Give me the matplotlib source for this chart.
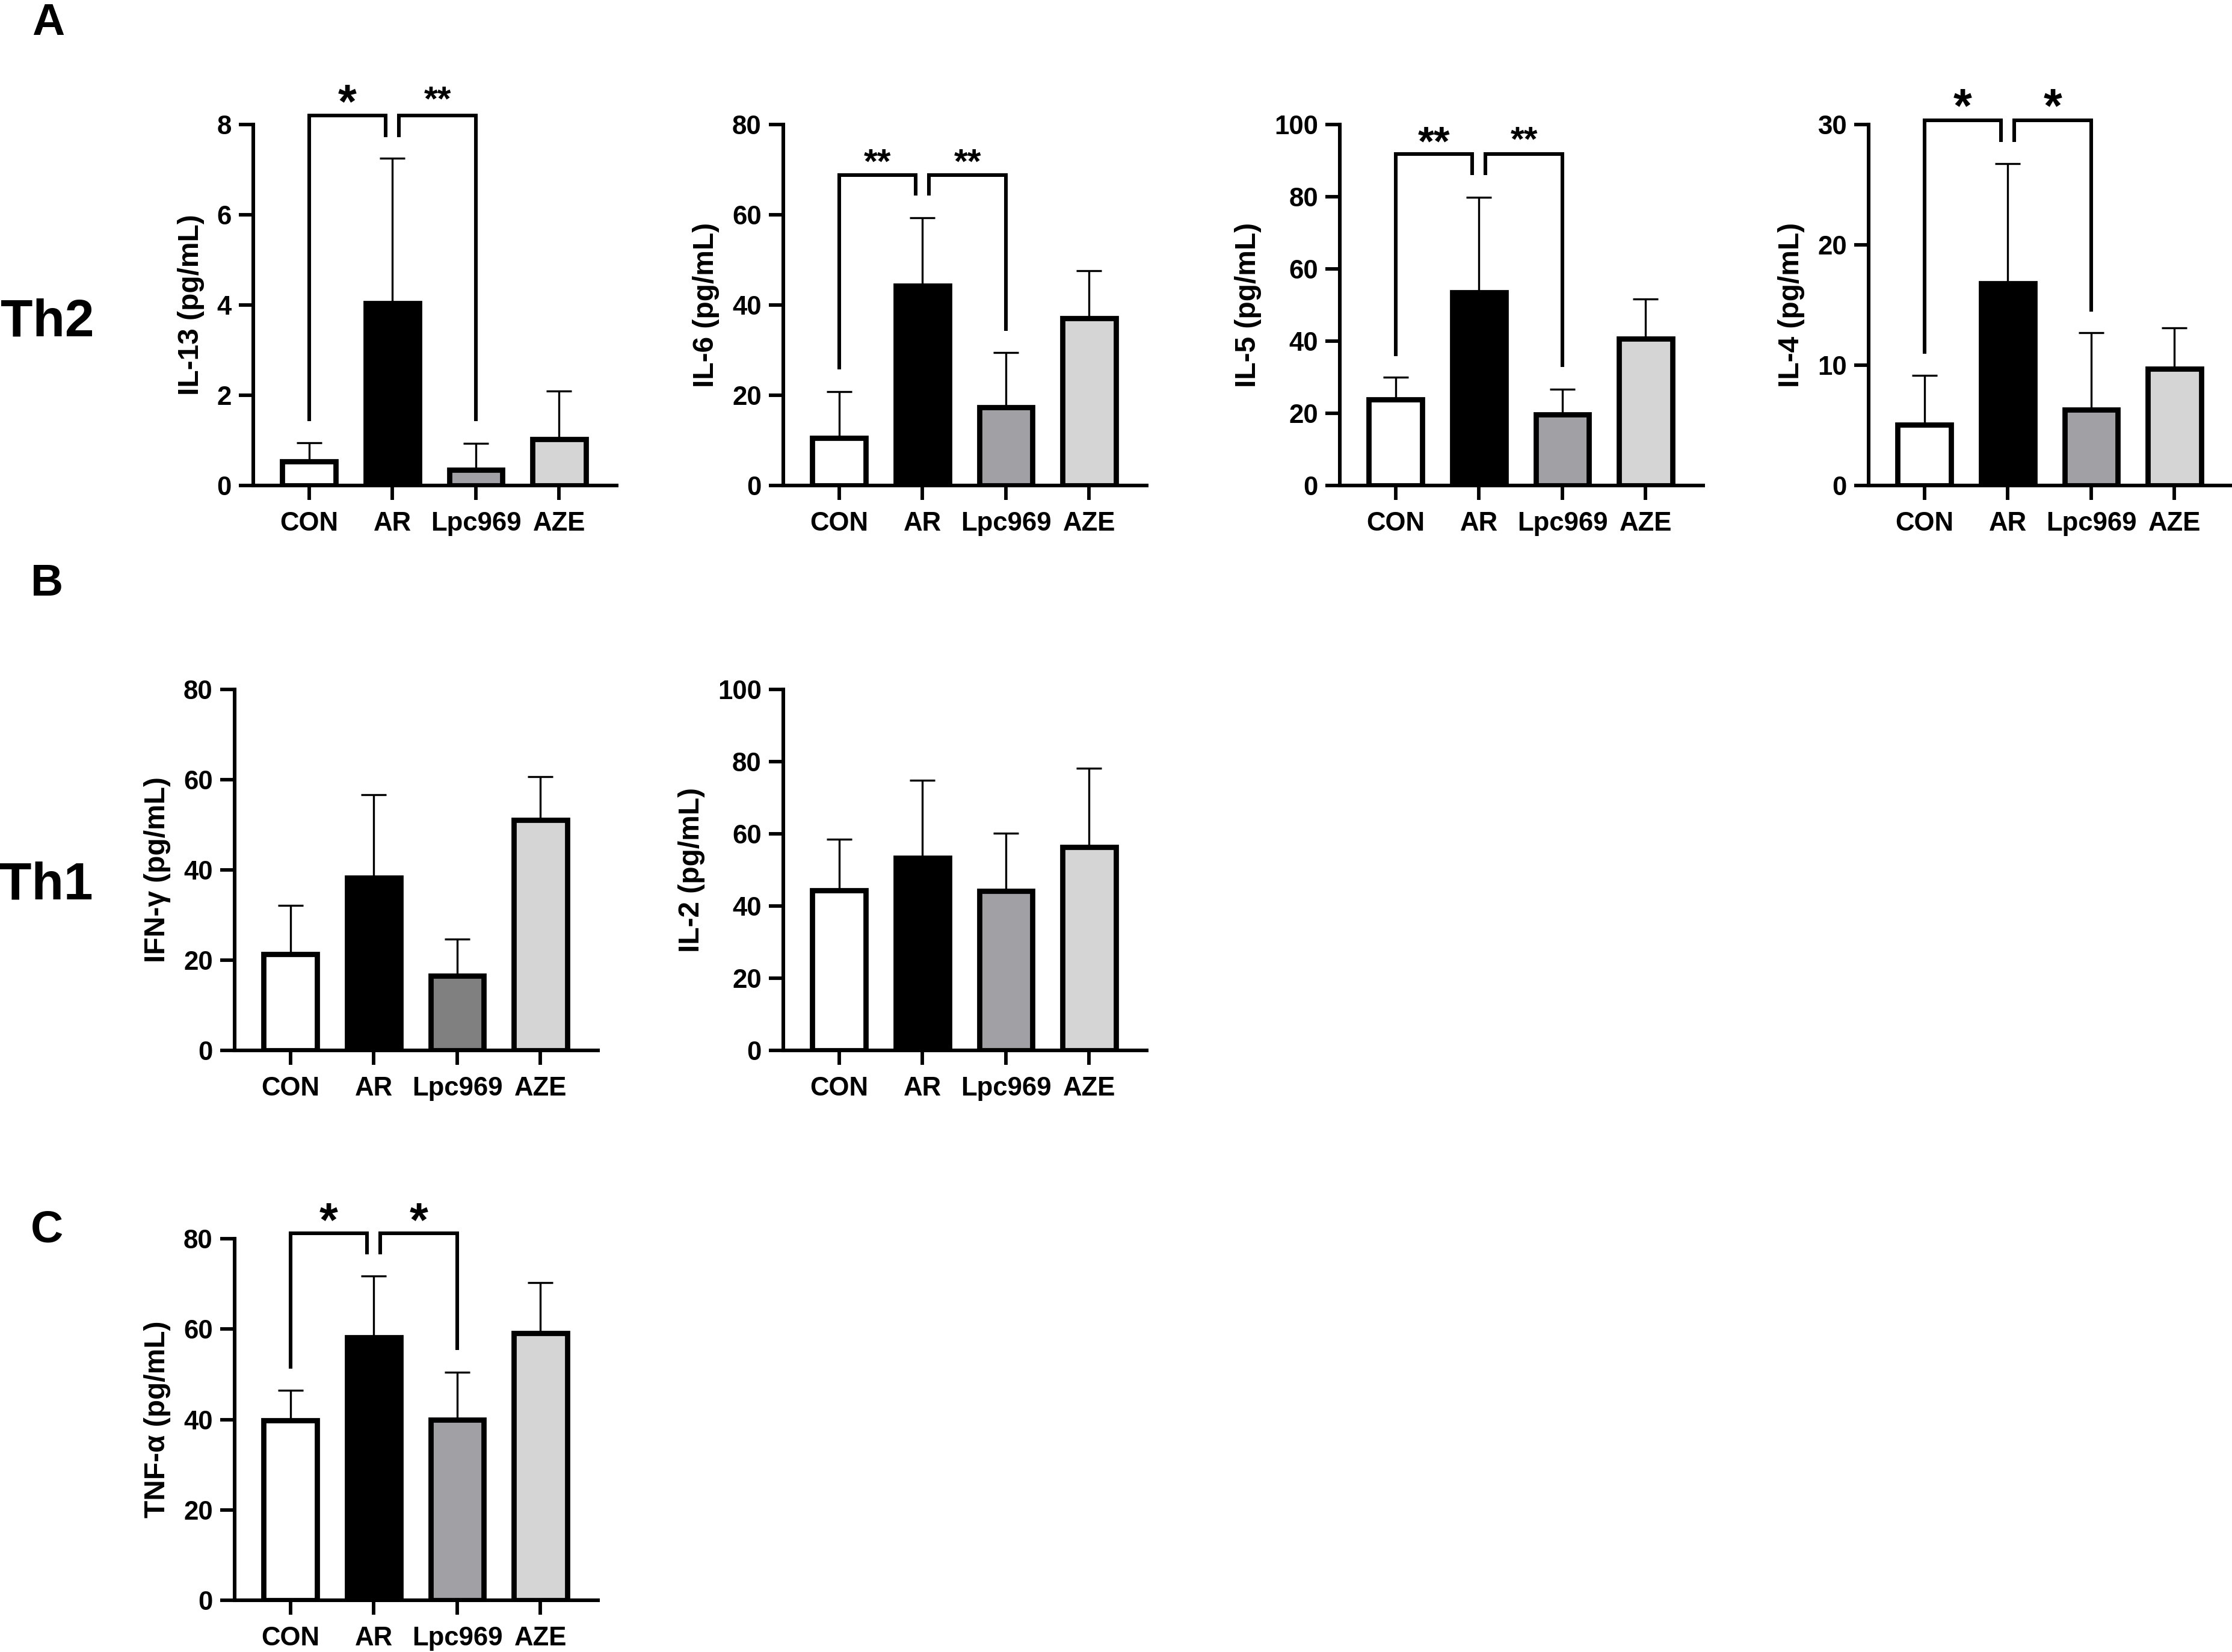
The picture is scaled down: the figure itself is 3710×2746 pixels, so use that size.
import matplotlib
matplotlib.use("Agg")
import matplotlib.pyplot as plt
import numpy as np

plt.rcParams['font.family'] = ['Liberation Sans', 'DejaVu Sans']
plt.rcParams['font.weight'] = 'bold'
plt.rcParams['axes.labelweight'] = 'bold'

groups = ["CON", "AR", "Lpc969", "AZE"]

# mean and upper SD
il13_mean = [0.53, 4.04, 0.35, 1.02]
il13_sd = [0.42, 3.21, 0.58, 1.07]
il6_mean = [10.5, 44.3, 17.3, 37.0]
il6_sd = [10.3, 15.0, 12.2, 10.6]
il5_mean = [23.8, 53.5, 19.6, 40.6]
il5_sd = [6.2, 26.4, 7.0, 11.1]
il4_mean = [5.06, 16.8, 6.28, 9.72]
il4_sd = [4.1, 9.95, 6.4, 3.4]
ifng_mean = [21.3, 38.3, 16.5, 51.1]
ifng_sd = [10.9, 18.4, 8.2, 9.6]
il2_mean = [44.4, 53.3, 44.1, 56.3]
il2_sd = [14.1, 21.5, 16.1, 21.8]
tnfa_mean = [39.8, 58.2, 40.0, 59.1]
tnfa_sd = [6.6, 13.5, 10.5, 11.2]

# significance marks (CON vs AR, AR vs Lpc969)
il13_stars = ["*", "**"]
il6_stars = ["**", "**"]
il5_stars = ["**", "**"]
il4_stars = ["*", "*"]
tnfa_stars = ["*", "*"]

W, H = 3710, 2746
DPI = 300
colors = ["white", "black", "#a1a1a5", "#d5d5d5"]
colors_ifn = ["white", "black", "#808080", "#d5d5d5"]


def make_axes(fig, left, zero, top, width=604):
    """axes from pixel positions (origin top-left)"""
    return fig.add_axes([left / W, 1 - zero / H, width / W, (zero - top) / H])


def draw_panel(ax, means, sds, ylabel, ymax, step, cols):
    x = np.arange(len(groups))
    ax.errorbar(x, means, yerr=[np.zeros(len(sds)), sds], fmt='none',
                ecolor='black', elinewidth=0.8, capsize=5, capthick=0.8, zorder=1)
    ax.bar(x, means, width=0.64, color=cols, edgecolor='black', linewidth=2.1, zorder=2)
    ax.set_xlim(-0.67, 3.69)
    ax.set_ylim(0, ymax)
    ax.set_yticks(np.arange(0, ymax + step / 2, step))
    ax.set_xticks(x)
    ax.set_xticklabels(groups)
    ax.set_ylabel(ylabel, fontsize=11.5, labelpad=5)
    for s in ['top', 'right']:
        ax.spines[s].set_visible(False)
    for s in ['left', 'bottom']:
        ax.spines[s].set_linewidth(1.45)
        ax.spines[s].set_zorder(3)
    ax.tick_params(axis='both', length=5.7, width=1.4, labelsize=10.5)
    ax.tick_params(axis='x', pad=4.5)
    ax.tick_params(axis='y', pad=3)


def add_sig(ax, stars, top, inner, left_bot, right_bot, star_y, sizes, gap=0.08):
    kw = dict(color='black', lw=1.45, clip_on=False, solid_joinstyle='miter', solid_capstyle='butt')
    ax.plot([0, 0, 1 - gap, 1 - gap], [left_bot, top, top, inner], **kw)
    ax.plot([1 + gap, 1 + gap, 2, 2], [inner, top, top, right_bot], **kw)
    for xc, s, fs in zip([(1 - gap) / 2, (3 + gap) / 2], stars, sizes):
        ax.annotate(s, xy=(xc, star_y), xytext=(0, -0.57 * fs), textcoords='offset points',
                    ha='center', va='baseline', fontsize=fs, fontweight='bold',
                    annotation_clip=False)


fig = plt.figure(figsize=(W / DPI, H / DPI), dpi=DPI)

ax = make_axes(fig, 421, 807, 207)
draw_panel(ax, il13_mean, il13_sd, "IL-13 (pg/mL)", 8, 2, colors)
add_sig(ax, il13_stars, 8.2, 7.72, 1.42, 1.42, 8.76, [19, 14])

ax = make_axes(fig, 1302, 807, 207)
draw_panel(ax, il6_mean, il6_sd, "IL-6 (pg/mL)", 80, 20, colors)
add_sig(ax, il6_stars, 68.8, 64.2, 25.7, 34.3, 73.7, [14, 14])

ax = make_axes(fig, 2227, 807, 207)
draw_panel(ax, il5_mean, il5_sd, "IL-5 (pg/mL)", 100, 20, colors)
add_sig(ax, il5_stars, 91.8, 86.0, 35.8, 32.8, 98.2, [16.5, 14])

ax = make_axes(fig, 3106, 807, 207)
draw_panel(ax, il4_mean, il4_sd, "IL-4 (pg/mL)", 30, 10, colors)
add_sig(ax, il4_stars, 30.35, 28.57, 10.97, 14.43, 32.5, [19, 19])

ax = make_axes(fig, 390, 1746, 1146)
draw_panel(ax, ifng_mean, ifng_sd, "IFN-γ (pg/mL)", 80, 20, colors_ifn)

ax = make_axes(fig, 1302, 1746, 1146)
draw_panel(ax, il2_mean, il2_sd, "IL-2 (pg/mL)", 100, 20, colors)

ax = make_axes(fig, 390, 2660, 2059)
draw_panel(ax, tnfa_mean, tnfa_sd, "TNF-α (pg/mL)", 80, 20, colors)
add_sig(ax, tnfa_stars, 81.15, 76.6, 51.25, 55.4, 86.7, [19, 19])

# panel letters and row labels
for txt, xp, yp, fs in [("A", 80, 38, 18), ("B", 78, 970, 18), ("C", 78, 2045, 18),
                        ("Th2", 79, 536, 21), ("Th1", 77, 1472, 21)]:
    fig.text(xp / W, 1 - yp / H, txt, ha='center', va='center', fontsize=fs, fontweight='bold')

fig.savefig("out.png", dpi=DPI)
